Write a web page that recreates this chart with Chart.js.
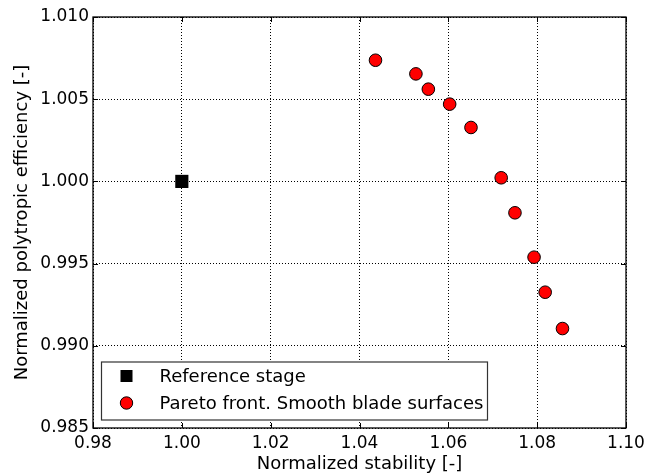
<!DOCTYPE html>
<html>
<head>
<meta charset="utf-8">
<script src="https://cdn.jsdelivr.net/npm/chart.js@4"></script>
<style>
  html, body { margin: 0; padding: 0; background: #fff; }
  #wrap { width: 661px; height: 475px; }
</style>
</head>
<body>
<div id="wrap"><canvas id="chart" width="661" height="475"></canvas></div>
<script>
// DATA

const referenceLabel = "Reference stage";
const referenceStability = [1.0];
const referenceEfficiency = [1.0];

const paretoLabel = "Pareto front. Smooth blade surfaces";
const paretoStability = [1.0436, 1.0527, 1.0555, 1.0603, 1.0651, 1.0719, 1.0750, 1.0793, 1.0818, 1.0857];
const paretoEfficiency = [1.00737, 1.00654, 1.00561, 1.00470, 1.00328, 1.00022, 0.99809, 0.99539, 0.99326, 0.99105];

const xTickValues = [0.98, 1.0, 1.02, 1.04, 1.06, 1.08, 1.1];
const yTickValues = [0.985, 0.99, 0.995, 1.0, 1.005, 1.01];

const FONT = "'DejaVu Sans', sans-serif";

const toPoints = (xs, ys) => xs.map((x, i) => ({ x, y: ys[i] }));

// PLUGINS

// axes frame + inward ticks on all four sides (matplotlib look)
const framePlugin = {
    id: "frame",
    afterDatasetsDraw(chart) {
        const { ctx, chartArea: a, scales } = chart;
        ctx.save();
        ctx.strokeStyle = "#000";
        ctx.lineWidth = 1;
        const tick = 5;
        ctx.beginPath();
        xTickValues.forEach((v) => {
            const px = Math.round(scales.x.getPixelForValue(v)) + 0.5;
            ctx.moveTo(px, a.bottom);
            ctx.lineTo(px, a.bottom - tick);
            ctx.moveTo(px, a.top);
            ctx.lineTo(px, a.top + tick);
        });
        yTickValues.forEach((v) => {
            const py = Math.round(scales.y.getPixelForValue(v)) + 0.5;
            ctx.moveTo(a.left, py);
            ctx.lineTo(a.left + tick, py);
            ctx.moveTo(a.right, py);
            ctx.lineTo(a.right - tick, py);
        });
        ctx.stroke();
        ctx.lineWidth = 1.3;
        ctx.strokeRect(a.left, a.top, a.right - a.left, a.bottom - a.top);
        ctx.restore();
    },
};

// boxed legend in the lower left corner of the axes
const boxLegendPlugin = {
    id: "boxLegend",
    afterDraw(chart) {
        const { ctx, chartArea: a } = chart;
        const x0 = a.left + 8.5;
        const y0 = a.bottom - 66;
        const w = 386;
        const h = 58;
        ctx.save();
        ctx.fillStyle = "#fff";
        ctx.fillRect(x0, y0, w, h);
        ctx.strokeStyle = "#333";
        ctx.lineWidth = 1.2;
        ctx.strokeRect(x0, y0, w, h);

        ctx.font = "18px " + FONT;
        ctx.textBaseline = "middle";
        chart.data.datasets.forEach((ds, i) => {
            const cy = y0 + 14 + i * 27;
            const cx = x0 + 25;
            ctx.fillStyle = ds.backgroundColor;
            ctx.strokeStyle = "#000";
            ctx.lineWidth = 1;
            if (ds.pointStyle === "rect") {
                ctx.fillRect(cx - 6, cy - 6, 12, 12);
            } else {
                ctx.beginPath();
                ctx.arc(cx, cy, 6.2, 0, Math.PI * 2);
                ctx.fill();
                ctx.stroke();
            }
            ctx.fillStyle = "#000";
            ctx.fillText(ds.label, x0 + 58, cy + 1);
        });
        ctx.restore();
    },
};

// CHART

const gridOpts = { color: "#000", lineWidth: 1, drawTicks: false };
const borderOpts = { display: false, dash: [1, 2] };

const canvas = document.getElementById("chart");
const chart = new Chart(canvas, {
    type: "scatter",
    data: {
        datasets: [
            {
                label: referenceLabel,
                data: toPoints(referenceStability, referenceEfficiency),
                pointStyle: "rect",
                pointRadius: 9.3,
                pointHoverRadius: 9.3,
                backgroundColor: "#000",
                borderColor: "#000",
                borderWidth: 0,
            },
            {
                label: paretoLabel,
                data: toPoints(paretoStability, paretoEfficiency),
                pointStyle: "circle",
                pointRadius: 6.3,
                pointHoverRadius: 6.3,
                backgroundColor: "#ff0000",
                borderColor: "#000",
                borderWidth: 1,
            },
        ],
    },
    options: {
        responsive: false,
        animation: false,
        events: [],
        layout: { padding: { top: 17, right: 35, left: 0, bottom: 0 } },
        plugins: {
            legend: { display: false },
            tooltip: { enabled: false },
        },
        scales: {
            x: {
                type: "linear",
                min: 0.98,
                max: 1.1,
                afterFit: (scale) => { scale.height = 47; },
                afterBuildTicks: (scale) => { scale.ticks = xTickValues.map((value) => ({ value })); },
                ticks: {
                    color: "#000",
                    padding: 5,
                    font: { family: FONT, size: 17 },
                    callback: (v) => Number(v).toFixed(2),
                },
                grid: gridOpts,
                border: borderOpts,
                title: {
                    display: true,
                    text: "Normalized stability [-]",
                    color: "#000",
                    font: { family: FONT, size: 18 },
                    padding: { top: 0, bottom: 0 },
                },
            },
            y: {
                type: "linear",
                min: 0.985,
                max: 1.01,
                afterFit: (scale) => { scale.width = 93; },
                afterBuildTicks: (scale) => { scale.ticks = yTickValues.map((value) => ({ value })); },
                ticks: {
                    color: "#000",
                    padding: 4,
                    font: { family: FONT, size: 17 },
                    callback: (v) => Number(v).toFixed(3),
                },
                grid: gridOpts,
                border: borderOpts,
                title: {
                    display: true,
                    text: "Normalized polytropic efficiency [-]",
                    color: "#000",
                    font: { family: FONT, size: 18 },
                    padding: { top: 12, bottom: 0 },
                },
            },
        },
    },
    plugins: [framePlugin, boxLegendPlugin],
});
</script>
</body>
</html>
